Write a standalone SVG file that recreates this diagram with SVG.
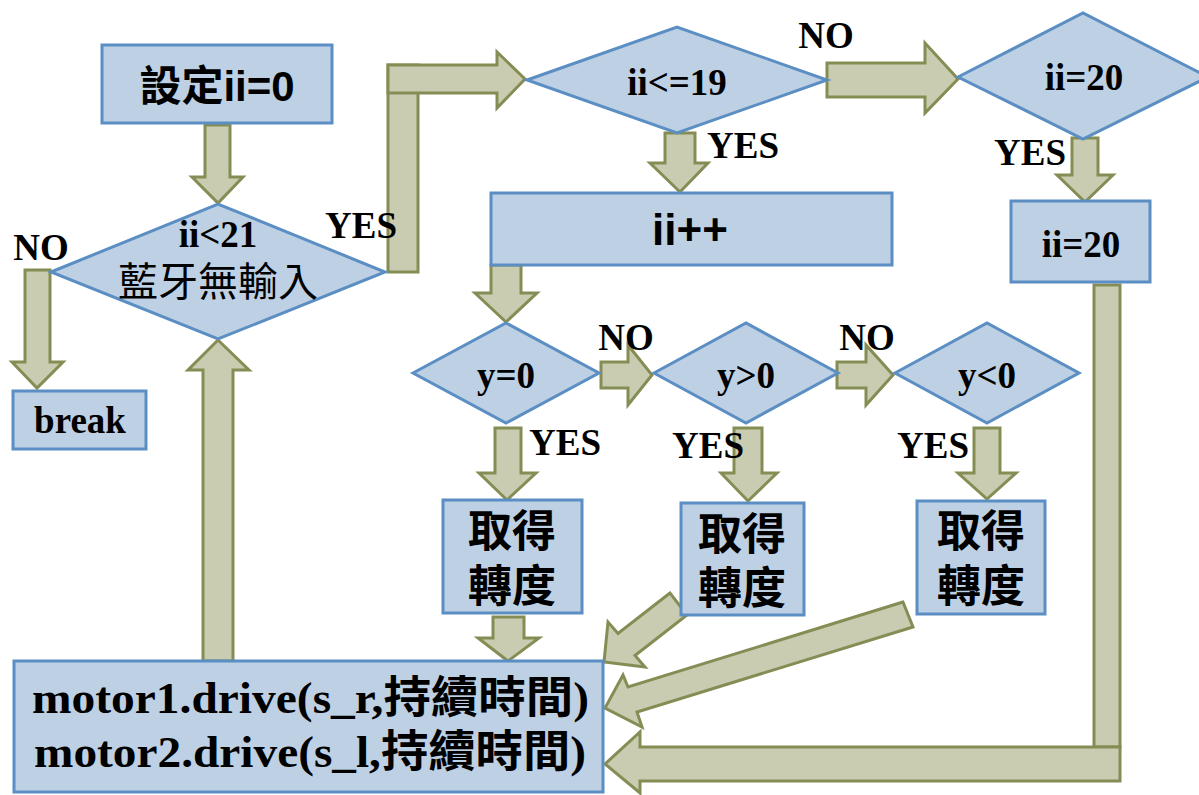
<svg xmlns="http://www.w3.org/2000/svg" width="1199" height="795" viewBox="0 0 1199 795">
<style>
.box{fill:#bdd0e4;stroke:#5b8ec3;stroke-width:3}
.arr{fill:#c9ccb1;stroke:#858d55;stroke-width:3;stroke-linejoin:miter}
.lbl{font-family:"Liberation Serif","Noto Sans CJK TC",serif;font-weight:bold;font-size:37px;fill:#000;text-anchor:middle}
.sb{font-family:"Liberation Sans","Noto Sans CJK TC",sans-serif;font-weight:bold;fill:#000;text-anchor:middle}
.cjk{font-family:"Noto Sans CJK TC",sans-serif;font-weight:bold;font-size:44px;fill:#000;text-anchor:middle}
.cjkn{font-family:"Liberation Serif","Noto Sans CJK TC",serif;font-weight:normal;font-size:40px;fill:#000;text-anchor:middle}
.mot{font-family:"Liberation Serif","Noto Sans CJK TC",serif;font-weight:bold;font-size:44px;fill:#000}
</style>
<rect width="1199" height="795" fill="#fff"/>

<g id="connectors">
  <polygon class="arr" points="205,125 230,125 230,177 243,177 218,203 192,177 205,177"/>
  <polygon class="arr" points="25,270 50,270 50,362 63,362 37,388 12,362 25,362"/>
  <polygon class="arr" points="203,661 233,661 233,370 249,370 218,340 188,370 203,370"/>
  <rect class="arr" x="388" y="65" width="30" height="207"/>
  <polygon class="arr" points="388,65 497,65 497,52 525,79 497,108 497,93 388,93"/>
  <polygon class="arr" points="827,63 925,63 925,43 958,79 925,113 925,97 827,97"/>
  <polygon class="arr" points="665,133 695,133 695,163 708,163 680,192 650,163 665,163"/>
  <polygon class="arr" points="1072,138 1098,138 1098,175 1113,175 1085,202 1057,175 1072,175"/>
  <polygon class="arr" points="491,265 521,265 521,293 537,293 506,322 475,293 491,293"/>
  <polygon class="arr" points="601,362 628,362 628,345 652,375 628,405 628,388 601,388"/>
  <polygon class="arr" points="837,362 866,362 866,345 893,375 866,405 866,388 837,388"/>
  <polygon class="arr" points="495,428 521,428 521,473 536,473 507,500 479,473 495,473"/>
  <polygon class="arr" points="734,428 762,428 762,473 777,473 748,501 721,473 734,473"/>
  <polygon class="arr" points="974,428 1000,428 1000,473 1016,473 987,499 958,473 974,473"/>
  <polygon class="arr" points="493,617 524,617 524,638 539,638 508,661 478,638 493,638"/>
  <polygon class="arr" points="670,593 618,633.5 608,622 604,662 645,667 635,655.5 687,615"/>
  <polygon class="arr" points="903,602 628,687 623,675 605,708 642,727 637,712 913,627"/>
  <rect class="arr" x="1094" y="285" width="26" height="462"/>
  <polygon class="arr" points="1120,747 640,747 640,732 605,764 640,793 640,781 1120,781"/>
</g>

<g id="n-set">
  <rect class="box" x="102" y="45" width="230" height="78"/>
  <text class="sb" x="217" y="101" font-size="42">設定ii=0</text>
</g>
<g id="n-cond1">
  <polygon class="box" points="51,272 218,204 385,272 218,339"/>
  <text class="lbl" x="218" y="247">ii&lt;21</text>
  <text class="cjkn" x="218" y="296">藍牙無輸入</text>
</g>
<g id="n-break">
  <rect class="box" x="13" y="391" width="133" height="58"/>
  <text class="lbl" x="80" y="433" font-size="38">break</text>
</g>
<g id="n-cond2">
  <polygon class="box" points="527,80 677,27 827,80 677,133"/>
  <text class="lbl" x="677" y="95" font-size="38">ii&lt;=19</text>
</g>
<g id="n-cond3">
  <polygon class="box" points="958,77 1083,13 1208,77 1083,139"/>
  <text class="lbl" x="1084" y="90" font-size="38">ii=20</text>
</g>
<g id="n-set20">
  <rect class="box" x="1011" y="201" width="139" height="81"/>
  <text class="lbl" x="1081" y="257" font-size="38">ii=20</text>
</g>
<g id="n-inc">
  <rect class="box" x="491" y="193" width="401" height="72"/>
  <text class="sb" x="690" y="245" font-size="44">ii++</text>
</g>
<g id="n-y0">
  <polygon class="box" points="413,373 506,323 599,373 506,423"/>
  <text class="lbl" x="506" y="388">y=0</text>
</g>
<g id="n-ygt">
  <polygon class="box" points="654,373 746,323 838,373 746,423"/>
  <text class="lbl" x="746" y="388">y&gt;0</text>
</g>
<g id="n-ylt">
  <polygon class="box" points="895,373 987,323 1079,373 987,423"/>
  <text class="lbl" x="987" y="388">y&lt;0</text>
</g>
<g id="n-getA">
  <rect class="box" x="443" y="500" width="139" height="113"/>
  <text class="cjk"><tspan x="512" y="547">取得</tspan><tspan x="512" y="602">轉度</tspan></text>
</g>
<g id="n-getB">
  <rect class="box" x="681" y="503" width="123" height="112"/>
  <text class="cjk"><tspan x="742" y="550">取得</tspan><tspan x="742" y="604">轉度</tspan></text>
</g>
<g id="n-getC">
  <rect class="box" x="917" y="501" width="128" height="113"/>
  <text class="cjk"><tspan x="981" y="547">取得</tspan><tspan x="981" y="602">轉度</tspan></text>
</g>
<g id="n-motor">
  <rect class="box" x="14" y="661" width="589" height="131"/>
  <text class="mot" x="32" y="713" textLength="557" lengthAdjust="spacingAndGlyphs">motor1.drive(s_r,持續時間)</text>
  <text class="mot" x="34" y="767" textLength="552" lengthAdjust="spacingAndGlyphs">motor2.drive(s_l,持續時間)</text>
</g>

<g id="labels">
  <text class="lbl" x="41" y="260">NO</text>
  <text class="lbl" x="361" y="238">YES</text>
  <text class="lbl" x="826" y="48">NO</text>
  <text class="lbl" x="743" y="158">YES</text>
  <text class="lbl" x="1030" y="165">YES</text>
  <text class="lbl" x="626" y="350">NO</text>
  <text class="lbl" x="867" y="350">NO</text>
  <text class="lbl" x="565" y="455">YES</text>
  <text class="lbl" x="708" y="458">YES</text>
  <text class="lbl" x="933" y="458">YES</text>
</g>
</svg>
